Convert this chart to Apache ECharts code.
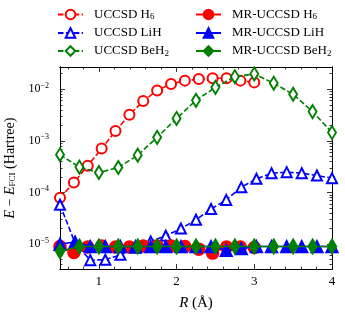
<!DOCTYPE html>
<html><head><meta charset="utf-8">
<script src="https://cdn.jsdelivr.net/npm/echarts@6/dist/echarts.min.js"></script>
<style>html,body{margin:0;padding:0;background:#fff}#c{width:345px;height:316px}</style>
</head><body><div id="c"></div>
<script>
// ---- data ----
const xH6 = [0.5,0.679,0.857,1.036,1.214,1.393,1.571,1.75,1.929,2.107,2.286,2.464,2.643,2.821,3.0];
const xLiH = [0.5,0.694,0.889,1.083,1.278,1.472,1.667,1.861,2.056,2.25,2.444,2.639,2.833,3.028,3.222,3.417,3.611,3.806,4.0];
const xBeH2 = [0.5,0.75,1.0,1.25,1.5,1.75,2.0,2.25,2.5,2.75,3.0,3.25,3.5,3.75,4.0];

const uccsdH6 = [7.9e-5,1.56e-4,3.3e-4,7.1e-4,1.56e-3,3.2e-3,5.9e-3,9.5e-3,1.27e-2,1.47e-2,1.58e-2,1.63e-2,1.63e-2,1.47e-2,1.36e-2];
const uccsdLiH = [5.8e-5,1.05e-5,4.9e-6,5.0e-6,6.2e-6,8.5e-6,1.13e-5,1.45e-5,2.0e-5,2.96e-5,4.8e-5,7.2e-5,1.27e-4,1.84e-4,2.37e-4,2.48e-4,2.37e-4,2.13e-4,1.9e-4];
const uccsdBeH2 = [5.4e-4,3.1e-4,2.44e-4,3.05e-4,5.3e-4,1.17e-3,2.72e-3,6.1e-3,1.09e-2,1.75e-2,1.98e-2,1.31e-2,8.0e-3,3.69e-3,1.45e-3];

const mrH6 = [9.0e-6,6.9e-6,8.8e-6,9.2e-6,8.8e-6,8.8e-6,9.2e-6,9.2e-6,9.2e-6,9.0e-6,8.0e-6,6.7e-6,8.8e-6,8.8e-6,8.6e-6];
const mrLiH = [1.0e-5,1.1e-5,9.0e-6,9.0e-6,9.0e-6,9.0e-6,9.0e-6,9.0e-6,9.0e-6,9.0e-6,9.0e-6,7.6e-6,8.2e-6,9.0e-6,9.0e-6,9.0e-6,9.0e-6,9.0e-6,9.0e-6];
const mrBeH2 = [7.3e-6,9.0e-6,9.0e-6,9.0e-6,9.0e-6,9.0e-6,9.0e-6,9.0e-6,9.0e-6,9.0e-6,9.0e-6,9.0e-6,9.0e-6,9.0e-6,9.0e-6];

const chemAcc = 1.6e-3;
const xMajor = [1,2,3,4];
const xMinor = [0.6,0.8,1.2,1.4,1.6,1.8,2.2,2.4,2.6,2.8,3.2,3.4,3.6,3.8];
const yMajor = [1e-5,1e-4,1e-3,1e-2];
const yMinor = [4e-6,5e-6,6e-6,7e-6,8e-6,9e-6,2e-5,3e-5,4e-5,5e-5,6e-5,7e-5,8e-5,9e-5,2e-4,3e-4,4e-4,5e-4,6e-4,7e-4,8e-4,9e-4,2e-3,3e-3,4e-3,5e-3,6e-3,7e-3,8e-3,9e-3,2e-2];

// ---- chart ----
const FONT = 'Liberation Serif';
const RED='#ff0000', BLUE='#0000ff', GREEN='#008000';
const pairs = (xs, ys) => xs.map((x,i)=>[x, ys[i]]);
const ax = '#000';

function mkX(pos, ticks, len, labels){
  return {type:'value', min:0.5, max:4, position:pos,
    axisLine:{show:true, onZero:false, lineStyle:{color:ax,width:1}},
    axisTick:{show:true, inside:true, length:len, customValues:ticks, lineStyle:{color:ax,width:0.8}},
    axisLabel:{show:labels, customValues:xMajor, color:'#000', fontFamily:FONT, fontSize:13, margin:6},
    splitLine:{show:false},
    name: labels ? '{i|R} (Å)' : '', nameLocation:'middle', nameGap:27,
    nameTextStyle:{fontFamily:FONT, fontSize:15, color:'#000', rich:{i:{fontStyle:'italic',fontFamily:FONT,fontSize:15}}}
  };
}
function mkY(pos, ticks, len, labels){
  return {type:'log', logBase:10, min:3.3e-6, max:2.7e-2, position:pos,
    axisLine:{show:true, onZero:false, lineStyle:{color:ax,width:1}},
    axisTick:{show:true, inside:true, length:len, customValues:ticks, lineStyle:{color:ax,width:0.8}},
    axisLabel:{show:labels, customValues:yMajor, margin:11, color:'#000', fontFamily:FONT,
      formatter:(v)=>{const e=Math.round(Math.log10(v)); return '{b|10}{s|−'+(-e)+'}';},
      rich:{b:{fontFamily:FONT,fontSize:12,color:'#000'}, s:{fontFamily:FONT,fontSize:8,color:'#000',padding:[0,0,7,0]}}},
    splitLine:{show:false},
    name: labels ? '{i|E} − {i|E}{sub|FCI} (Hartree)' : '', nameLocation:'middle', nameGap:37,
    nameTextStyle:{fontFamily:FONT, fontSize:14, color:'#000',
      rich:{i:{fontStyle:'italic',fontFamily:FONT,fontSize:14}, sub:{fontFamily:FONT,fontSize:9,padding:[6,0,0,0]}}}
  };
}

function ser(name, xs, ys, color, symbol, size, dashed, z, extra){
  return Object.assign({name, type:'line', data:pairs(xs,ys), xAxisIndex:0, yAxisIndex:0,
    symbol, symbolSize:size, showSymbol:true, z,
    lineStyle:{color, width:1.6, type: dashed?[5.5,2.4]:'solid'},
    itemStyle:{color, borderColor:color, borderWidth:1.5},
    emphasis:{disabled:true}, animation:false}, extra||{});
}

const legendText = {fontFamily:FONT, fontSize:13, color:'#000',
  rich:{t:{fontFamily:FONT,fontSize:13,padding:[0,0,0,6]}, sub:{fontFamily:FONT,fontSize:9,padding:[5,0,0,0]}}};
const fmtLegend = (n)=>{const m=n.match(/^(.*H)(\d)$/); return m ? '{t|'+m[1]+'}{sub|'+m[2]+'}' : '{t|'+n+'}';};

const option = {
  animation:false,
  backgroundColor:'#fff',
  grid:{left:60, right:13, top:67, bottom:47, containLabel:false, outerBoundsMode:'none'},
  legend:[
    {left:57, top:8, padding:0, orient:'vertical', itemWidth:25, itemHeight:12, itemGap:5,
     data:['UCCSD H6','UCCSD LiH','UCCSD BeH2'], textStyle:legendText, formatter:fmtLegend, selectedMode:false},
    {left:195, top:8, padding:0, orient:'vertical', itemWidth:25, itemHeight:12, itemGap:5,
     data:['MR-UCCSD H6','MR-UCCSD LiH','MR-UCCSD BeH2'], textStyle:legendText, formatter:fmtLegend, selectedMode:false}
  ],
  xAxis:[mkX('bottom', xMajor, 5, true), mkX('bottom', xMinor, 2.5, false), mkX('top', xMajor, 5, false), mkX('top', xMinor, 2.5, false)],
  yAxis:[mkY('left', yMajor, 5, true), mkY('left', yMinor, 2.5, false), mkY('right', yMajor, 5, false), mkY('right', yMinor, 2.5, false)],
  series:[
    ser('UCCSD H6', xH6, uccsdH6, RED, 'emptyCircle', 10, true, 2, {
      markLine:{silent:true, symbol:['none','none'], label:{show:false},
        lineStyle:{color:'#000', width:1.6, type:'solid'}, data:[{yAxis:chemAcc}]}}),
    ser('UCCSD LiH', xLiH, uccsdLiH, BLUE, 'emptyTriangle', 10, true, 3),
    ser('UCCSD BeH2', xBeH2, uccsdBeH2, GREEN, 'emptyDiamond', [8,13], true, 4),
    ser('MR-UCCSD H6', xH6, mrH6, RED, 'circle', 12, false, 5),
    ser('MR-UCCSD LiH', xLiH, mrLiH, BLUE, 'triangle', 12, false, 6),
    ser('MR-UCCSD BeH2', xBeH2, mrBeH2, GREEN, 'diamond', [9,15], false, 7)
  ]
};
const chart = echarts.init(document.getElementById('c'), null, {renderer:'canvas'});
chart.setOption(option);
</script></body></html>
